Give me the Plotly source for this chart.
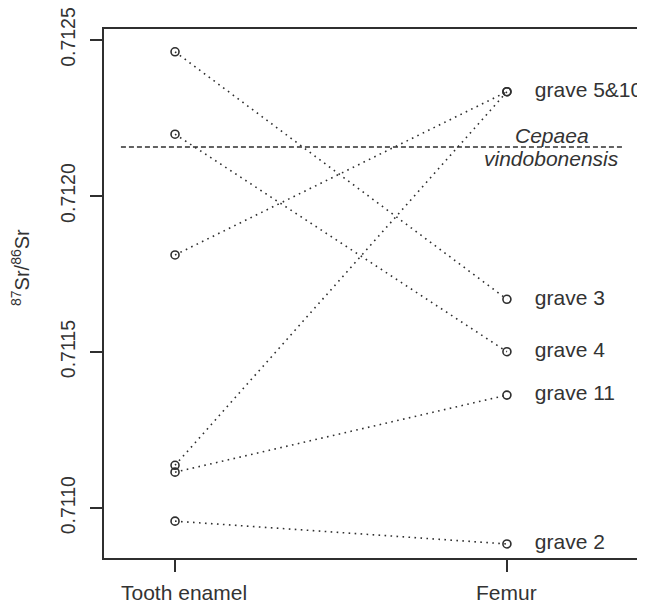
import plotly.graph_objects as go

categories = ["Tooth enamel", "Femur"]
cat_pos = [1, 2]
cat_label_shift = [9, 0]
graves = ["grave 3", "grave 4", "grave 5&10", "grave 5&10", "grave 11", "grave 2"]
enamel = [0.712462, 0.712198, 0.711811, 0.711137, 0.711115, 0.710958]
femur = [0.711669, 0.711501, 0.712334, 0.712334, 0.711362, 0.710885]
femur_labels = ["grave 5&10", "grave 3", "grave 4", "grave 11", "grave 2"]
femur_label_vals = [0.712334, 0.711669, 0.711501, 0.711362, 0.710885]
cepaea_val = 0.712157
ytick_vals = [0.7110, 0.7115, 0.7120, 0.7125]
ytick_text = ["0.7110", "0.7115", "0.7120", "0.7125"]

INK = "#2f2f2f"
TXT = "#333333"
FONT = "Liberation Sans, Arial, sans-serif"
FS = 21

# page body has an 8px margin; size the figure so the plot lands where the reference has it
OFF = 8
W, H = 645 - OFF, 603 - OFF
l, r, t, b = 104 - OFF, 0, 29 - OFF, 45
pw, ph = W - l - r, H - t - b

fig = go.Figure()

for e, f in zip(enamel, femur):
    fig.add_trace(go.Scatter(
        x=cat_pos, y=[e, f], mode="lines",
        line=dict(color=INK, width=1.6, dash="1.6px,4.4px"),
        showlegend=False, hoverinfo="skip"))

fig.add_trace(go.Scatter(
    x=[cat_pos[0]] * len(enamel) + [cat_pos[1]] * len(femur),
    y=enamel + femur, mode="markers",
    marker=dict(symbol="circle-open", size=8, color=INK, line=dict(width=1.6, color=INK)),
    showlegend=False, hoverinfo="skip"))

# Cepaea reference line
fig.add_trace(go.Scatter(
    x=[0.837, 2.352], y=[cepaea_val, cepaea_val], mode="lines",
    line=dict(color=INK, width=1.4, dash="5px,3px"),
    showlegend=False, hoverinfo="skip"))

# femur labels
fig.add_trace(go.Scatter(
    x=[2.084] * len(femur_labels), y=femur_label_vals, mode="text",
    text=femur_labels, textposition="middle right",
    textfont=dict(family=FONT, size=FS, color=TXT),
    showlegend=False, hoverinfo="skip", cliponaxis=False))

fig.add_annotation(x=2.135, y=cepaea_val, xref="x", yref="y", text="<i>Cepaea</i>",
                   showarrow=False, yshift=11, font=dict(family=FONT, size=FS, color=TXT))
fig.add_annotation(x=2.135, y=cepaea_val, xref="x", yref="y", text="<i>vindobonensis</i>",
                   showarrow=False, yshift=-12, font=dict(family=FONT, size=FS, color=TXT))

# category labels under the x axis
for c, p, s in zip(categories, cat_pos, cat_label_shift):
    fig.add_annotation(x=p, y=0, xref="x", yref="paper", text=c, showarrow=False,
                       xanchor="center", yanchor="top", xshift=s, yshift=-21,
                       font=dict(family=FONT, size=FS, color=TXT))

# y axis title (target centre in screenshot pixels: 20, 268)
fig.add_annotation(x=(20 - OFF - l) / pw, y=(H - b - (268 - OFF)) / ph, xref="paper", yref="paper",
                   xanchor="center", yanchor="middle",
                   text="<sup>87</sup>Sr/<sup>86</sup>Sr",
                   showarrow=False, textangle=-90, font=dict(family=FONT, size=20, color=TXT))

fig.update_layout(
    width=W, height=H,
    margin=dict(l=l, r=r, t=t, b=b, autoexpand=False),
    plot_bgcolor="white", paper_bgcolor="white",
    font=dict(family=FONT, size=FS, color=TXT),
    xaxis=dict(range=[0.786, 2.416], tickmode="array", tickvals=cat_pos, showticklabels=False,
               showgrid=False, zeroline=False, showline=True, mirror=True, linecolor=INK, linewidth=2,
               ticks="outside", ticklen=12, tickwidth=2, tickcolor=INK, automargin=False),
    yaxis=dict(range=[0.71084, 0.712535], tickmode="array", tickvals=ytick_vals, ticktext=ytick_text,
               showgrid=False, zeroline=False, showline=True, linecolor=INK, linewidth=2,
               ticks="outside", ticklen=12, tickwidth=2, tickcolor=INK, tickangle=-90,
               ticklabelstandoff=7, ticklabeloverflow="allow",
               automargin=False, tickfont=dict(family=FONT, size=19.5, color=TXT)),
)

fig.write_html("out.html")
